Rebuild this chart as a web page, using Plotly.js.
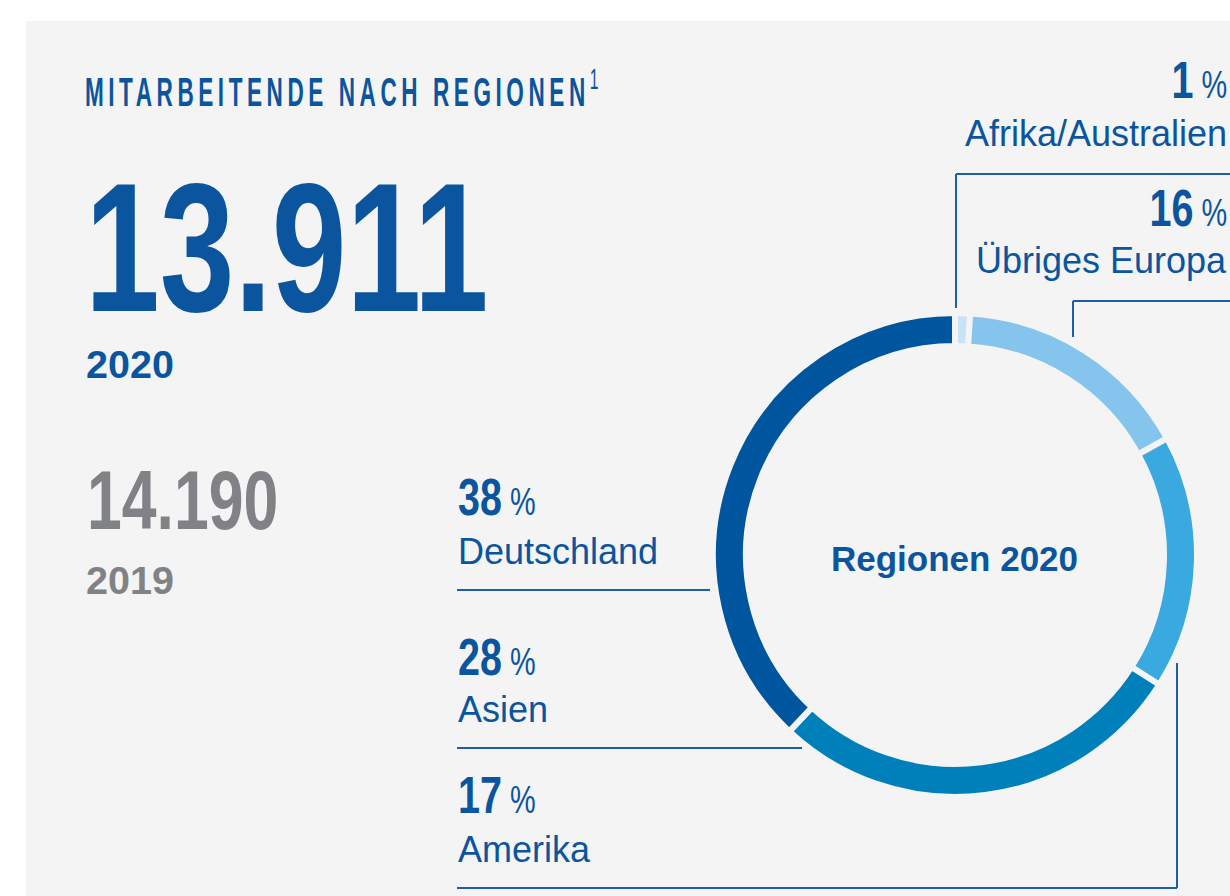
<!DOCTYPE html>
<html>
<head>
<meta charset="utf-8">
<script src="https://cdn.plot.ly/plotly-3.0.1.min.js"></script>
<style>
  html, body { margin: 0; padding: 0; background: #ffffff; }
  #chart { width: 1230px; height: 896px; }
</style>
</head>
<body>
<div id="chart"></div>
<script>
// ---- data ----
const regions = ['Afrika/Australien', 'Übriges Europa', 'Amerika', 'Asien', 'Deutschland'];
const shares = [1, 16, 17, 28, 38];
const sliceColors = ['#c8e3f6', '#85c5ed', '#3aa9e0', '#0080bb', '#00569e'];
const headline = 'MITARBEITENDE NACH REGIONEN';
const totals = ['13.911', '14.190'];
const years = ['2020', '2019'];
const centerLabel = 'Regionen 2020';

// ---- helpers ----
const W = 1230, H = 896;
const px = x => x / W;
const py = y => 1 - y / H;
const BLUE = '#0b559f';
const GREY = '#808285';
const PANEL = '#f4f4f4';
const SANS = '"Liberation Sans", Arial, sans-serif';

const pie = {
  type: 'pie',
  values: shares,
  labels: regions,
  sort: false,
  direction: 'clockwise',
  rotation: 0,
  hole: 0.8636,
  marker: { colors: sliceColors, line: { color: PANEL, width: 6 } },
  textinfo: 'none',
  hoverinfo: 'label+percent',
  showlegend: false,
  domain: { x: [px(713), px(1197)], y: [py(797), py(313)] }
};

function pctText(v) {
  return '<b>' + v + '</b><span style="font-size:38px;font-weight:normal"> %</span>';
}

const ann = [];
const styleRules = []; // [index, scaleX, letterSpacing, origin]
function add(a, sx, ls) {
  a.xref = 'paper'; a.yref = 'paper'; a.showarrow = false; a.borderpad = 0;
  ann.push(a);
  const o = a.xanchor === 'right' ? '100% 50%' : (a.xanchor === 'center' ? '50% 50%' : '0 50%');
  if (sx || ls) styleRules.push([ann.length - 1, sx || 1, ls || 0, o]);
}

add({ text: '<b>' + headline + '</b><sup>1</sup>', x: px(344), y: py(89), xanchor: 'center', yanchor: 'middle',
  font: { family: SANS, size: 41, color: BLUE } }, 0.55, 8.3);
add({ text: '<b>' + totals[0] + '</b>', x: px(84), y: py(247), xanchor: 'left', yanchor: 'middle',
  font: { family: SANS, size: 184, color: BLUE } }, 0.73);
add({ text: '<b>' + years[0] + '</b>', x: px(85), y: py(364), xanchor: 'left', yanchor: 'middle',
  font: { family: SANS, size: 39.5, color: BLUE } });
add({ text: '<b>' + totals[1] + '</b>', x: px(86), y: py(500), xanchor: 'left', yanchor: 'middle',
  font: { family: SANS, size: 84, color: GREY } }, 0.745);
add({ text: '<b>' + years[1] + '</b>', x: px(85), y: py(580), xanchor: 'left', yanchor: 'middle',
  font: { family: SANS, size: 39.5, color: GREY } });
add({ text: '<b>' + centerLabel + '</b>', x: px(955), y: py(558), xanchor: 'center', yanchor: 'middle',
  font: { family: SANS, size: 35, color: BLUE } });

// region labels: [index, pctY, nameY, anchor, x]
const labelPos = [
  [4, 497, 551, 'left', 457],
  [3, 657, 709, 'left', 457],
  [2, 795, 849, 'left', 457],
  [0, 80, 134, 'right', 1228],
  [1, 208, 261, 'right', 1228]
];
labelPos.forEach(([i, yp, yn, anc, x]) => {
  add({ text: pctText(shares[i]), x: px(x), y: py(yp), xanchor: anc, yanchor: 'middle',
    font: { family: SANS, size: 52, color: BLUE } }, 0.76);
  add({ text: regions[i], x: px(x), y: py(yn), xanchor: anc, yanchor: 'middle',
    font: { family: SANS, size: 36, color: BLUE } });
});

// per-annotation condensing / tracking
const css = styleRules.map(([i, sx, ls, o]) =>
  '.annotation[data-index="' + i + '"] text.annotation-text {' +
  (sx !== 1 ? 'transform: scaleX(' + sx + '); transform-box: fill-box; transform-origin: ' + o + ';' : '') +
  (ls ? 'letter-spacing:' + ls + 'px;' : '') + '}').join('\n');
const st = document.createElement('style');
st.textContent = css;
document.head.appendChild(st);

const LINE = { color: '#1c5ea7', width: 2 };
function seg(x0, y0, x1, y1) {
  return { type: 'line', xref: 'paper', yref: 'paper', x0: px(x0), y0: py(y0), x1: px(x1), y1: py(y1), line: LINE };
}
const shapes = [
  { type: 'rect', xref: 'paper', yref: 'paper', x0: px(26), y0: 0, x1: 1, y1: py(21),
    fillcolor: PANEL, line: { width: 0 }, layer: 'below' },
  seg(457, 590, 710, 590),
  seg(457, 748, 802, 748),
  seg(457, 888, 1177, 888),
  seg(1177, 888, 1177, 663),
  seg(956, 308, 956, 174),
  seg(956, 174, 1230, 174),
  seg(1073, 337, 1073, 301),
  seg(1073, 301, 1230, 301)
];

const layout = {
  width: W, height: H,
  margin: { l: 0, r: 0, t: 0, b: 0 },
  paper_bgcolor: '#ffffff',
  plot_bgcolor: '#ffffff',
  annotations: ann,
  shapes: shapes
};

Plotly.newPlot('chart', [pie], layout, { displayModeBar: false, staticPlot: true });
</script>
</body>
</html>
